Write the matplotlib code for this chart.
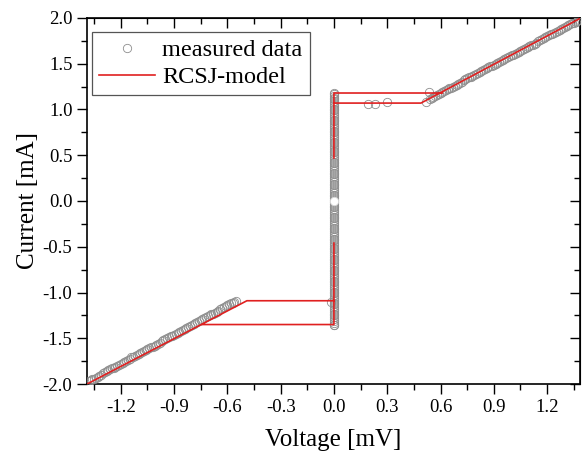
import numpy as np
import matplotlib
matplotlib.use("Agg")
import matplotlib.pyplot as plt
from matplotlib.ticker import MultipleLocator, FormatStrFormatter

plt.rcParams['font.family'] = ['Liberation Serif', 'DejaVu Serif']
plt.rcParams['axes.unicode_minus'] = False

# measured data: negative resistive branch (mV, mA)
v_neg = [-1.38, -1.37, -1.36, -1.35, -1.34, -1.33, -1.32, -1.31, -1.30, -1.29,
         -1.28, -1.27, -1.26, -1.25, -1.24, -1.23, -1.22, -1.21, -1.20, -1.19,
         -1.18, -1.17, -1.16, -1.15, -1.14, -1.13, -1.12, -1.11, -1.10, -1.09,
         -1.08, -1.07, -1.06, -1.05, -1.04, -1.03, -1.02, -1.01, -1.00, -0.99,
         -0.98, -0.97, -0.96, -0.95, -0.94, -0.93, -0.92, -0.91, -0.90, -0.89,
         -0.88, -0.87, -0.86, -0.85, -0.84, -0.83, -0.82, -0.81, -0.80, -0.79,
         -0.78, -0.77, -0.76, -0.75, -0.74, -0.73, -0.72, -0.71, -0.70, -0.69,
         -0.68, -0.67, -0.66, -0.65, -0.64, -0.63, -0.62, -0.61, -0.60, -0.59,
         -0.58, -0.57, -0.56]
i_neg = [-1.97, -1.96, -1.95, -1.94, -1.93, -1.92, -1.91, -1.90, -1.88, -1.87,
         -1.86, -1.85, -1.84, -1.83, -1.82, -1.81, -1.80, -1.79, -1.78, -1.77,
         -1.76, -1.75, -1.74, -1.73, -1.71, -1.70, -1.69, -1.68, -1.67, -1.66,
         -1.65, -1.64, -1.63, -1.62, -1.61, -1.60, -1.59, -1.58, -1.57, -1.56,
         -1.55, -1.53, -1.52, -1.51, -1.50, -1.49, -1.48, -1.47, -1.46, -1.45,
         -1.44, -1.43, -1.42, -1.41, -1.40, -1.39, -1.38, -1.37, -1.35, -1.34,
         -1.33, -1.32, -1.31, -1.30, -1.29, -1.28, -1.27, -1.26, -1.25, -1.24,
         -1.23, -1.22, -1.21, -1.20, -1.18, -1.17, -1.16, -1.15, -1.14, -1.13,
         -1.12, -1.11, -1.10]

# positive resistive branch
v_pos = [0.54, 0.55, 0.56, 0.57, 0.58, 0.59, 0.60, 0.61, 0.62, 0.63,
         0.64, 0.65, 0.66, 0.67, 0.68, 0.69, 0.70, 0.71, 0.72, 0.73,
         0.74, 0.75, 0.76, 0.77, 0.78, 0.79, 0.80, 0.81, 0.82, 0.83,
         0.84, 0.85, 0.86, 0.87, 0.88, 0.89, 0.90, 0.91, 0.92, 0.93,
         0.94, 0.95, 0.96, 0.97, 0.98, 0.99, 1.00, 1.01, 1.02, 1.03,
         1.04, 1.05, 1.06, 1.07, 1.08, 1.09, 1.10, 1.11, 1.12, 1.13,
         1.14, 1.15, 1.16, 1.17, 1.18, 1.19, 1.20, 1.21, 1.22, 1.23,
         1.24, 1.25, 1.26, 1.27, 1.28, 1.29, 1.30, 1.31, 1.32, 1.33,
         1.34, 1.35, 1.36, 1.37, 1.38]
i_pos = [1.12, 1.13, 1.14, 1.15, 1.16, 1.17, 1.18, 1.19, 1.20, 1.21,
         1.22, 1.23, 1.24, 1.25, 1.26, 1.27, 1.28, 1.29, 1.30, 1.32,
         1.33, 1.34, 1.35, 1.36, 1.37, 1.38, 1.39, 1.40, 1.41, 1.42,
         1.43, 1.44, 1.45, 1.46, 1.47, 1.48, 1.49, 1.50, 1.51, 1.52,
         1.53, 1.54, 1.55, 1.56, 1.57, 1.58, 1.59, 1.60, 1.61, 1.62,
         1.63, 1.64, 1.65, 1.66, 1.67, 1.68, 1.69, 1.70, 1.71, 1.72,
         1.73, 1.75, 1.76, 1.77, 1.78, 1.79, 1.80, 1.81, 1.82, 1.83,
         1.84, 1.85, 1.86, 1.87, 1.88, 1.89, 1.90, 1.91, 1.92, 1.93,
         1.94, 1.95, 1.96, 1.97, 1.98]

# supercurrent branch (V = 0)
i_sc = [-1.35, -1.33, -1.31, -1.29, -1.27, -1.25, -1.23, -1.21, -1.19, -1.17,
        -1.15, -1.13, -1.11, -1.09, -1.07, -1.05, -1.03, -1.01, -0.99, -0.97,
        -0.95, -0.93, -0.91, -0.89, -0.87, -0.85, -0.83, -0.81, -0.79, -0.77,
        -0.75, -0.73, -0.71, -0.69, -0.67, -0.65, -0.63, -0.61, -0.59, -0.57,
        -0.55, -0.53, -0.51, -0.49, -0.47, -0.45, -0.43, -0.41, -0.39, -0.37,
        -0.35, -0.33, -0.31, -0.29, -0.27, -0.25, -0.23, -0.21, -0.19, -0.17,
        -0.15, -0.13, -0.11, -0.09, -0.07, -0.05, -0.03, -0.01, 0.01, 0.03,
        0.05, 0.07, 0.09, 0.11, 0.13, 0.15, 0.17, 0.19, 0.21, 0.23,
        0.25, 0.27, 0.29, 0.31, 0.33, 0.35, 0.37, 0.39, 0.41, 0.43,
        0.45, 0.47, 0.49, 0.51, 0.53, 0.55, 0.57, 0.59, 0.61, 0.63,
        0.65, 0.67, 0.69, 0.71, 0.73, 0.75, 0.77, 0.79, 0.81, 0.83,
        0.85, 0.87, 0.89, 0.91, 0.93, 0.95, 0.97, 0.99, 1.01, 1.03,
        1.05, 1.07, 1.09, 1.11, 1.13, 1.15, 1.17]
v_sc = [0.0] * len(i_sc)

# switching / retrapping points
v_sw = [0.19, 0.23, 0.30, 0.52, 0.535, 0.0, -0.017, 0.0, -0.55]
i_sw = [1.06, 1.06, 1.08, 1.08, 1.19, 1.18, -1.10, -1.36, -1.09]

# RCSJ model curve (NaN separates segments)
v_model = [-1.39, -0.49, 0.0, np.nan, -0.74, 0.0, 0.0, np.nan,
           0.0, 0.0, 0.61, np.nan, 0.0, 0.49, 1.39]
i_model = [-2.0, -1.09, -1.09, np.nan, -1.35, -1.35, -0.46, np.nan,
           0.47, 1.18, 1.18, np.nan, 1.07, 1.07, 2.0]

v_meas = v_neg + v_sc + v_sw + v_pos
i_meas = i_neg + i_sc + i_sw + i_pos

fig = plt.figure(figsize=(5.82, 4.55), dpi=100)
ax = fig.add_axes([0.1495, 0.156, 0.847, 0.8045])

grey = '#8e8e8e'
ax.plot(v_meas, i_meas, 'o', ms=6.0, mfc='none', mec=grey, mew=0.6,
        label='measured data', zorder=3)
# white point at origin
ax.plot([0.0], [0.0], 'o', ms=6.0, mfc='white', mec='#d8d8d8', mew=0.6, zorder=4)
ax.plot(v_model, i_model, '-', color='#e02020', lw=1.2, label='RCSJ-model', zorder=5)

ax.set_xlim(-1.39, 1.385)
ax.set_ylim(-2.0, 2.0)
ax.xaxis.set_major_locator(MultipleLocator(0.3))
ax.xaxis.set_minor_locator(MultipleLocator(0.15))
ax.yaxis.set_major_locator(MultipleLocator(0.5))
ax.yaxis.set_minor_locator(MultipleLocator(0.25))
ax.xaxis.set_major_formatter(FormatStrFormatter('%.1f'))
ax.yaxis.set_major_formatter(FormatStrFormatter('%.1f'))

ax.tick_params(which='both', direction='out', width=1.0, labelsize=13.5,
               top=False, right=False)
ax.tick_params(which='major', length=7)
ax.tick_params(which='minor', length=4)
for sp in ax.spines.values():
    sp.set_linewidth(1.2)

# inward ticks on top and right
ax2 = ax.secondary_xaxis('top')
ax2.xaxis.set_major_locator(MultipleLocator(0.3))
ax2.xaxis.set_minor_locator(MultipleLocator(0.15))
ax2.tick_params(which='both', direction='in', labeltop=False, width=1.0)
ax2.tick_params(which='major', length=7)
ax2.tick_params(which='minor', length=4)
ax3 = ax.secondary_yaxis('right')
ax3.yaxis.set_major_locator(MultipleLocator(0.5))
ax3.yaxis.set_minor_locator(MultipleLocator(0.25))
ax3.tick_params(which='both', direction='in', labelright=False, width=1.0)
ax3.tick_params(which='major', length=7)
ax3.tick_params(which='minor', length=4)

ax.set_xlabel('Voltage [mV]', fontsize=18, labelpad=10)
ax.set_ylabel('Current [mA]', fontsize=18, labelpad=3)

leg = ax.legend(loc='upper left',
                bbox_to_anchor=(5 / 493, 1 - 14 / 366), borderaxespad=0,
                fontsize=17.5, fancybox=False, framealpha=1, edgecolor='#555555',
                handlelength=2.3, borderpad=0.3, labelspacing=0.2,
                handletextpad=0.3, numpoints=1)
leg.get_frame().set_linewidth(0.9)

fig.savefig('out.png', dpi=100)
